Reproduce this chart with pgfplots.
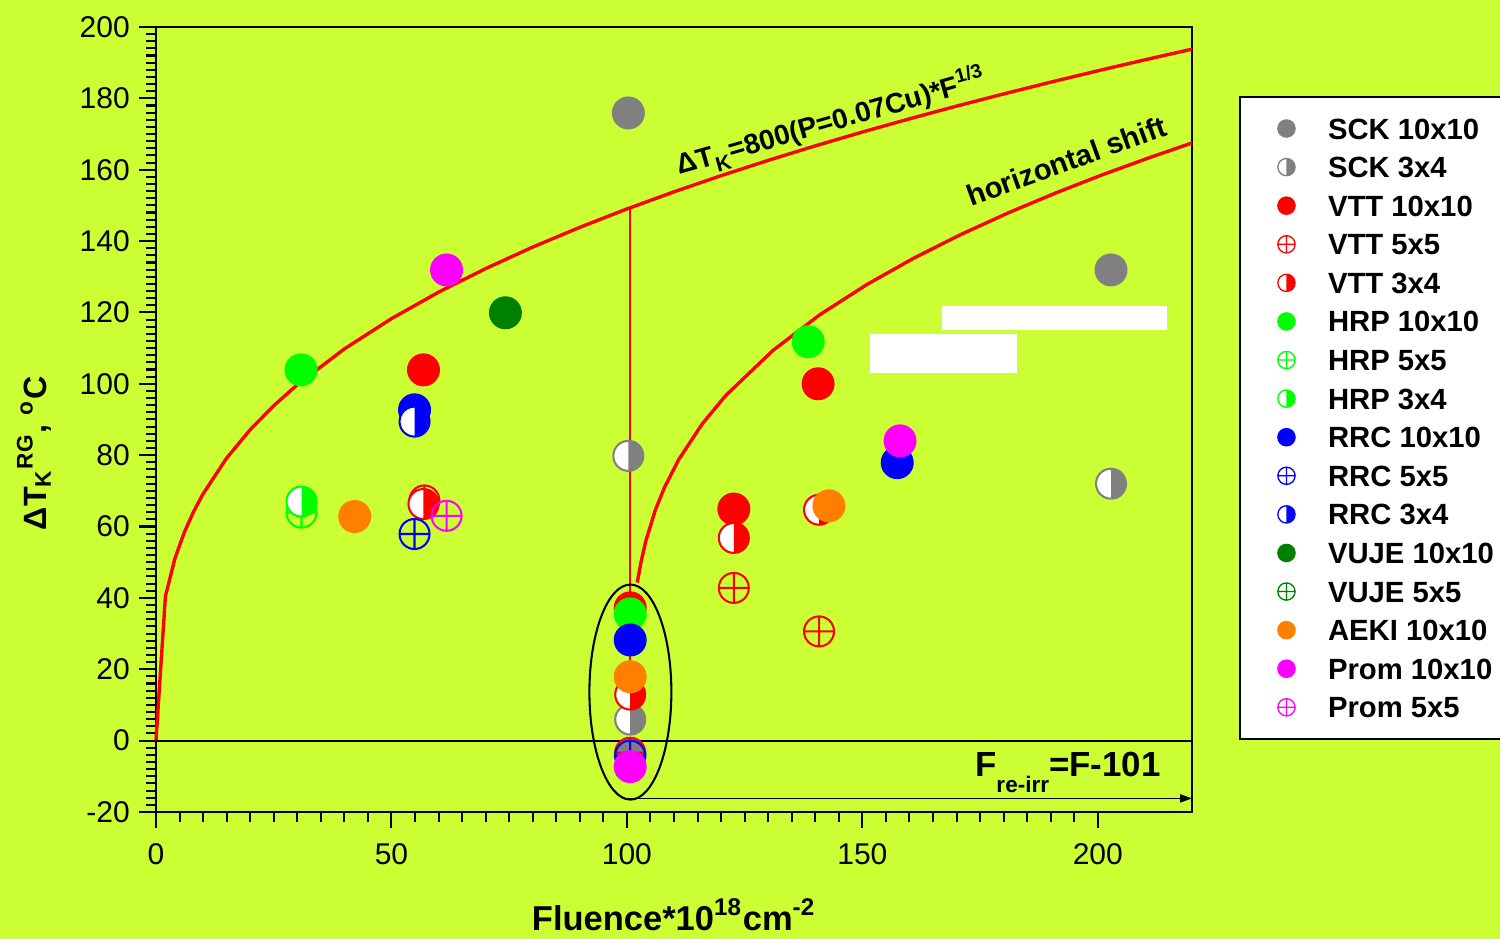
\documentclass[border=0pt]{standalone}
\usepackage{fontspec}
\setmainfont{Liberation Sans}
\usepackage{pgfplots}
\pgfplotsset{compat=1.18}
\usetikzlibrary{arrows.meta,plotmarks}

\definecolor{bg}{RGB}{204,255,51}
\definecolor{sckgray}{RGB}{128,128,128}
\definecolor{hrpgreen}{RGB}{0,255,0}
\definecolor{vujegreen}{RGB}{0,128,0}
\definecolor{aekiorange}{RGB}{255,128,0}
\definecolor{prommag}{RGB}{255,0,255}

% circle: left half white, right half in the mark colour
\pgfdeclareplotmark{halfcirc}{%
  \begin{pgfscope}
    \pgfsetfillcolor{white}%
    \pgfpathcircle{\pgfpointorigin}{\pgfplotmarksize}%
    \pgfusepath{fill}%
  \end{pgfscope}
  \pgfpathmoveto{\pgfqpoint{0pt}{\pgfplotmarksize}}%
  \pgfpatharc{90}{-90}{\pgfplotmarksize}%
  \pgfpathclose
  \pgfusepath{fill}%
  \pgfpathcircle{\pgfpointorigin}{\pgfplotmarksize}%
  \pgfusepath{stroke}%
}

\pgfplotsset{
  legimg/.style={legend image code/.code={%
      \draw[##1, mark size=2.3pt, line width=0.35pt] plot coordinates {(0pt,0pt)};
      \path[draw=none, fill=none] (-2.6pt,-2.6pt) rectangle (2.6pt,2.6pt);}},
  full/.style={only marks, mark=*, color=#1, mark size=4.2pt, line width=0.4pt, legimg},
  half/.style={only marks, mark=halfcirc, color=#1, mark size=4.0pt, line width=0.55pt, legimg},
  ring/.style={only marks, mark=oplus, color=#1, mark size=4.0pt, line width=0.55pt, legimg},
}

\begin{document}
\begin{tikzpicture}
\fill[bg] (-41.6pt,-33.87pt) rectangle (358.4pt,216.53pt);
\begin{axis}[
  at={(0pt,0pt)}, anchor=south west,
  scale only axis, width=276.27pt, height=209.33pt,
  xmin=0, xmax=220, ymin=-20, ymax=200,
  xtick={0,50,100,150,200}, ytick={-20,0,20,...,200},
  minor x tick num=9, minor y tick num=9,
  tick pos=left, tick align=outside,
  major tick length=4.4pt, minor tick length=2.7pt,
  tick style={black, line width=0.55pt},
  axis line style={line width=0.55pt},
  ticklabel style={font=\fontsize{8}{9.6}\selectfont, inner sep=0pt},
  /pgf/number format/assume math mode=true,
  yticklabel style={anchor=east, xshift=-2.4pt},
  xticklabel style={anchor=north, yshift=-3.7pt},
  label style={font=\fontsize{9.2}{11}\selectfont\bfseries},
  xlabel={Fluence*10\textsuperscript{18}cm\textsuperscript{-2}},
  xlabel style={at={(axis description cs:0.5,-0.1505)}, anchor=base},
  ylabel={ΔT\textsubscript{K}\textsuperscript{RG}, \textsuperscript{o}C},
  ylabel style={at={(axis description cs:-0.1053,0.457)}, anchor=base,
    font=\fontsize{8.6}{10}\selectfont\bfseries},
  clip=false,
  legend cell align=left,
  legend style={at={(1.0463,0.9108)}, anchor=north west, draw=black,
    line width=0.5pt, fill=white, outer sep=0pt,
    font=\fontsize{7.8}{9.4}\selectfont\bfseries,
    inner xsep=9.8pt, inner ysep=5.1pt, row sep=3.69pt, column sep=8.5pt,
    nodes={inner sep=0pt, text height=6.1pt, text depth=0.5pt}},
]
% blank panels
\fill[white] (axis cs:151.6,103.1) rectangle (axis cs:182.8,114.0);
\fill[white] (axis cs:166.9,115.1) rectangle (axis cs:214.6,121.8);

\addplot[full=sckgray] coordinates {(100.3,175.9) (202.8,131.9) (100.7,-4.0)};
\addlegendentry{SCK 10x10}
\addplot[half=sckgray] coordinates {(100.3,79.8) (202.8,72.0) (100.7,5.9)};
\addlegendentry{SCK 3x4}
\addplot[full=red] coordinates {(56.8,103.9) (140.6,100.0) (122.7,64.9) (100.7,37.2)};
\addlegendentry{VTT 10x10}
\addplot[ring=red] coordinates {(57.0,67.3) (122.7,42.8) (140.8,30.6) (100.7,-3.4)};
\addlegendentry{VTT 5x5}
\addplot[half=red] coordinates {(56.8,66.3) (122.7,56.8) (140.8,64.7) (100.7,12.9)};
\addlegendentry{VTT 3x4}
\addplot[full=hrpgreen] coordinates {(30.8,103.9) (138.5,111.8) (100.7,35.5)};
\addlegendentry{HRP 10x10}
\addplot[ring=hrpgreen] coordinates {(30.9,63.9)};
\addlegendentry{HRP 5x5}
\addplot[half=hrpgreen] coordinates {(30.9,67.0)};
\addlegendentry{HRP 3x4}
\addplot[full=blue] coordinates {(54.9,92.7) (157.4,77.9) (100.7,28.2)};
\addlegendentry{RRC 10x10}
\addplot[ring=blue] coordinates {(54.9,57.9) (100.7,-4.2)};
\addlegendentry{RRC 5x5}
\addplot[half=blue] coordinates {(54.9,89.4)};
\addlegendentry{RRC 3x4}
\addplot[full=vujegreen] coordinates {(74.2,119.9)};
\addlegendentry{VUJE 10x10}
\addlegendimage{ring=vujegreen}
\addlegendentry{VUJE 5x5}
\addplot[full=aekiorange] coordinates {(42.2,62.8) (142.9,65.8) (100.7,17.9)};
\addlegendentry{AEKI 10x10}
\addplot[full=prommag] coordinates {(61.7,131.9) (158.0,84.0) (100.7,-7.3)};
\addlegendentry{Prom 10x10}
\addplot[ring=prommag] coordinates {(61.7,63.0)};
\addlegendentry{Prom 5x5}

% trend 800(P-0.07Cu)*F^(1/3)
\addplot[red, line width=0.9pt, forget plot] coordinates {
  (0,0) (2,40.44) (4,50.96) (6,58.33) (8,64.2) (10,69.16) (15,79.17)
  (20,87.13) (25,93.86) (30,99.74) (40,109.78) (50,118.26) (60,125.67)
  (70,132.29) (80,138.32) (90,143.85) (100,149.0) (110,153.80)
  (120,158.33) (130,162.61) (140,166.68) (150,170.56) (160,174.26)
  (170,177.82) (180,181.24) (190,184.54) (200,187.72) (210,190.80)
  (220,193.78)};
% re-irradiation curve
\addplot[red, line width=0.9pt, forget plot] coordinates {
  (102.2,44.3) (103,50.04) (104,55.89) (106,64.49) (108,71.0) (111,78.76)
  (116,88.77) (121,96.73) (131,109.34) (141,119.38) (151,127.86)
  (161,135.27) (171,141.89) (181,147.92) (191,153.45) (201,158.6)
  (211,163.4) (220,167.49)};

% zero line, annealing arrow, re-irradiation axis
\draw[black, line width=0.5pt] (axis cs:0,0) -- (axis cs:220,0);
\draw[red, line width=0.4pt, -{Stealth[length=4.5pt, width=2.2pt]}]
  (axis cs:100.7,149) -- (axis cs:100.7,15);
\draw[black, line width=0.55pt] (axis cs:100.74,13.6) ellipse [x radius=10.93pt, y radius=28.67pt];
\draw[black, line width=0.4pt, -{Stealth[length=3.2pt, width=2.2pt, inset=0pt]}]
  (axis cs:100.3,-16.2) -- (axis cs:220,-16.2);

\node[anchor=base west, inner sep=0pt, rotate=16,
  font=\fontsize{7.5}{9}\selectfont\bfseries]
  at (axis cs:111.1,158.5) {ΔT\raisebox{-2.2pt}{\fontsize{5.6}{6}\selectfont K}\kern0.4pt=800(P=0.07Cu)*F\textsuperscript{1/3}};
\node[anchor=base west, inner sep=0pt, rotate=20,
  font=\fontsize{7.8}{9.4}\selectfont\bfseries]
  at (axis cs:173.0,149.6) {horizontal shift};
\node[anchor=base west, inner sep=0pt,
  font=\fontsize{9.3}{11}\selectfont\bfseries]
  at (axis cs:173.8,-10.0) {F\raisebox{-4.3pt}{\fontsize{6}{7}\selectfont re-irr}=F-101};
\end{axis}
\pgfresetboundingbox
\useasboundingbox (-41.6pt,-33.87pt) rectangle (358.4pt,216.53pt);
\end{tikzpicture}
\end{document}
